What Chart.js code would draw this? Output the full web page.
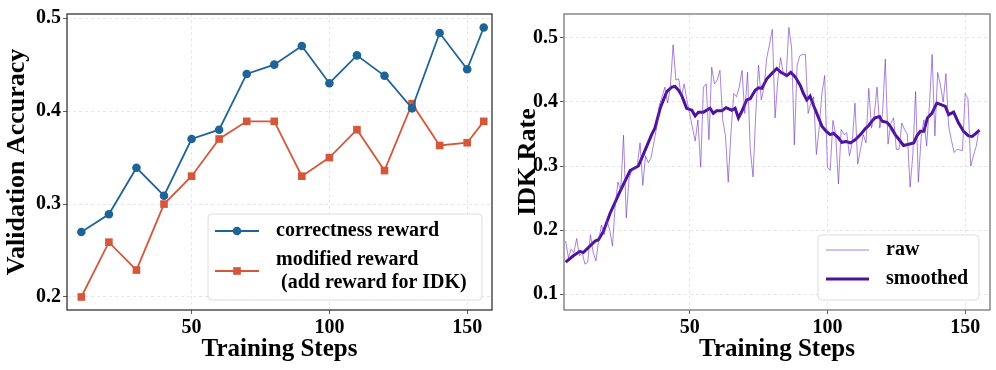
<!DOCTYPE html>
<html>
<head>
<meta charset="utf-8">
<script src="https://cdn.jsdelivr.net/npm/chart.js@4"></script>
<style>
  body { margin: 0; background: #fff; }
  .wrap { position: absolute; top: 0; width: 498px; height: 370px; }
</style>
</head>
<body>
<div class="wrap" style="left:0"><canvas id="accChart" width="498" height="370"></canvas></div>
<div class="wrap" style="left:498px"><canvas id="idkChart" width="498" height="370"></canvas></div>
<script>
// left panel: validation accuracy
const accSteps = [10, 20, 30, 40, 50, 60, 70, 80, 90, 100, 110, 120, 130, 140, 150, 156];
const correctnessAcc = [0.270, 0.289, 0.339, 0.309, 0.370, 0.380, 0.440, 0.450, 0.470, 0.430, 0.460, 0.438, 0.403, 0.484, 0.445, 0.490];
const modifiedAcc = [0.200, 0.259, 0.229, 0.300, 0.330, 0.370, 0.389, 0.389, 0.330, 0.350, 0.380, 0.336, 0.408, 0.363, 0.366, 0.389];
const accYTicks = [0.2, 0.3, 0.4, 0.5];

// right panel: IDK rate
const rawSteps = [
  5, 6, 7, 8, 9, 10, 11, 12, 13, 14, 15, 16, 17, 18, 19, 20, 21, 22, 23, 24, 25, 26, 27, 28, 29, 30,
  31, 32, 33, 34, 35, 36, 37, 38, 39, 40, 41, 42, 43, 44, 45, 46, 47, 48, 49, 50, 51, 52, 53, 54, 55,
  56, 57, 58, 59, 60, 61, 62, 63, 64, 65, 66, 67, 68, 69, 70, 71, 72, 73, 74, 75, 76, 77, 78, 79, 80,
  81, 82, 83, 84, 85, 86, 87, 88, 89, 90, 91, 92, 93, 94, 95, 96, 97, 98, 99, 100, 101, 102, 103, 104, 105,
  106, 107, 108, 109, 110, 111, 112, 113, 114, 115, 116, 117, 118, 119, 120, 121, 122, 123, 124, 125, 126, 127, 128, 129, 130,
  131, 132, 133, 134, 135, 136, 137, 138, 139, 140, 141, 142, 143, 144, 145, 146, 147, 148, 149, 150, 151, 152, 153, 154, 155
];
const rawIdk = [
  0.183, 0.157, 0.170, 0.165, 0.187, 0.160, 0.165, 0.147, 0.150, 0.193, 0.165, 0.152, 0.185, 0.208, 0.193, 0.215, 0.200, 0.175, 0.240, 0.275, 0.262, 0.348, 0.219, 0.280, 0.293, 0.296,
  0.300, 0.336, 0.270, 0.316, 0.305, 0.313, 0.336, 0.360, 0.395, 0.408, 0.423, 0.398, 0.423, 0.489, 0.434, 0.436, 0.408, 0.428, 0.403, 0.382, 0.360, 0.339, 0.372, 0.298, 0.423,
  0.428, 0.341, 0.454, 0.428, 0.434, 0.449, 0.372, 0.347, 0.275, 0.352, 0.413, 0.408, 0.423, 0.449, 0.382, 0.446, 0.326, 0.283, 0.382, 0.457, 0.403, 0.423, 0.469, 0.490, 0.513,
  0.375, 0.434, 0.469, 0.444, 0.438, 0.516, 0.485, 0.333, 0.457, 0.472, 0.474, 0.474, 0.382, 0.398, 0.408, 0.318, 0.359, 0.413, 0.441, 0.298, 0.293, 0.371, 0.349, 0.272, 0.357,
  0.349, 0.352, 0.316, 0.336, 0.398, 0.303, 0.326, 0.349, 0.336, 0.421, 0.359, 0.380, 0.423, 0.359, 0.382, 0.467, 0.334, 0.367, 0.375, 0.326, 0.326, 0.367, 0.357, 0.349, 0.267,
  0.318, 0.416, 0.275, 0.344, 0.372, 0.331, 0.393, 0.474, 0.347, 0.446, 0.426, 0.400, 0.444, 0.362, 0.340, 0.321, 0.326, 0.325, 0.324, 0.413, 0.405, 0.300, 0.316, 0.331, 0.357
];
const smoothSteps = [5, 7.8, 10.2, 11.4, 13.8, 15.7, 16.9, 18.7, 21.1, 24.7, 28.4, 31.4, 33.2, 36.2, 37.4, 39.3, 41.7, 43.5, 44.7, 46, 47.1, 48.9,
  50.8, 52, 53.2, 55, 57.4, 58.6, 59.8, 61.7, 63.2, 65.3, 66.5, 67.7, 68.9, 70.7, 72, 73.8, 75, 76.2, 78, 79.8, 81.6, 83.1, 85.3, 86.7, 88.3,
  90.1, 91.3, 92.5, 93.7, 94.9, 96.8, 98, 99.6, 101, 102.2, 104, 105.2, 106.8, 108.3, 110.1, 112, 113.7, 115, 116.1, 117.3, 118.9, 119.8,
  121.6, 122.8, 124.6, 126.4, 127.6, 129.5, 131.3, 132.5, 133.7, 135, 136.3, 137.9, 139.7, 141, 142.8, 144, 145.8, 147.6, 149.4, 151.2, 152.5, 153.7, 155.2];
const smoothIdk = [0.150, 0.160, 0.167, 0.165, 0.175, 0.183, 0.185, 0.198, 0.226, 0.260, 0.293, 0.300, 0.318, 0.349, 0.359, 0.390, 0.416, 0.423, 0.424, 0.418, 0.410, 0.390,
  0.387, 0.378, 0.384, 0.384, 0.390, 0.382, 0.386, 0.386, 0.391, 0.387, 0.390, 0.375, 0.385, 0.403, 0.405, 0.418, 0.422, 0.421, 0.436, 0.444, 0.452, 0.446, 0.441, 0.446, 0.439,
  0.426, 0.413, 0.403, 0.409, 0.395, 0.375, 0.362, 0.354, 0.349, 0.351, 0.344, 0.337, 0.338, 0.336, 0.341, 0.349, 0.358, 0.363, 0.370, 0.375, 0.377, 0.370,
  0.368, 0.362, 0.349, 0.339, 0.332, 0.334, 0.336, 0.347, 0.354, 0.354, 0.375, 0.382, 0.398, 0.396, 0.393, 0.380, 0.384, 0.367, 0.354, 0.347, 0.346, 0.350, 0.356];
const idkYTicks = [0.1, 0.2, 0.3, 0.4, 0.5];
const stepTicks = [50, 100, 150];

const serif = "'Liberation Serif', 'DejaVu Serif', serif";

// draws the full axes box like matplotlib
const frameBox = {
    id: 'frameBox',
    afterDraw(chart, args, opts) {
        const a = chart.chartArea;
        const ctx = chart.ctx;
        ctx.save();
        ctx.strokeStyle = opts.color;
        ctx.lineWidth = 1.3;
        ctx.strokeRect(a.left, a.top, a.right - a.left, a.bottom - a.top);
        ctx.restore();
    }
};

// legend in a rounded box, lower right corner
const boxLegend = {
    id: 'boxLegend',
    afterDraw(chart, args, opts) {
        const ctx = chart.ctx;
        const a = chart.chartArea;
        const x0 = a.right - opts.right - opts.width;
        const y0 = a.bottom - opts.bottom - opts.height;
        ctx.save();
        ctx.beginPath();
        ctx.roundRect(x0, y0, opts.width, opts.height, 4);
        ctx.fillStyle = 'rgba(255,255,255,0.85)';
        ctx.fill();
        ctx.strokeStyle = '#dcdcdc';
        ctx.lineWidth = 1;
        ctx.stroke();
        ctx.font = 'bold 20px ' + serif;
        ctx.textBaseline = 'middle';
        opts.items.forEach(it => {
            const ds = chart.data.datasets[it.dataset];
            const ly = y0 + it.lineY;
            const lx0 = x0 + opts.lineX0, lx1 = x0 + opts.lineX1;
            ctx.strokeStyle = ds.borderColor;
            ctx.lineWidth = ds.borderWidth;
            ctx.beginPath();
            ctx.moveTo(lx0, ly);
            ctx.lineTo(lx1, ly);
            ctx.stroke();
            const cx = (lx0 + lx1) / 2;
            ctx.fillStyle = ds.backgroundColor;
            if (ds.pointStyle === 'circle' && ds.pointRadius) {
                ctx.beginPath();
                ctx.arc(cx, ly, ds.pointRadius, 0, Math.PI * 2);
                ctx.fill();
            } else if (ds.pointStyle === 'rect' && ds.pointRadius) {
                const s = ds.pointRadius * Math.SQRT1_2;
                ctx.fillRect(cx - s, ly - s, 2 * s, 2 * s);
            }
            ctx.fillStyle = '#000';
            it.text.forEach((t, i) => ctx.fillText(t, x0 + opts.textX, y0 + it.textY[i]));
        });
        ctx.restore();
    }
};

function axisX(title) {
    return {
        type: 'linear',
        afterFit: s => { s.height = 60; },
        afterBuildTicks: s => { s.ticks = stepTicks.map(v => ({ value: v })); },
        grid: { color: '#e0e0e0', lineWidth: 0.8, tickLength: 4, tickColor: '#333', tickBorderDash: [] },
        border: { display: false, dash: [3, 3] },
        ticks: { color: '#000', padding: 2, maxRotation: 0, font: { size: 20, weight: 'bold', family: serif } },
        title: { display: true, text: title, color: '#000', padding: { top: 0, bottom: 8 }, font: { size: 25, weight: 'bold', family: serif, lineHeight: 1 } }
    };
}

function axisY(title, tickVals, width, titlePad) {
    return {
        afterFit: s => { s.width = width; },
        afterBuildTicks: s => { s.ticks = tickVals.map(v => ({ value: v })); },
        grid: { color: '#e0e0e0', lineWidth: 0.8, tickLength: 4, tickColor: '#333', tickBorderDash: [] },
        border: { display: false, dash: [3, 3] },
        ticks: { color: '#000', padding: 2, callback: v => v.toFixed(1), font: { size: 20, weight: 'bold', family: serif } },
        title: { display: true, text: title, color: '#000', padding: { top: titlePad, bottom: 0 }, font: { size: 26, weight: 'bold', family: serif, lineHeight: 1 } }
    };
}

const accX = axisX('Training Steps');
accX.min = 4.8;
accX.max = 159;
const accY = axisY('Validation Accuracy', accYTicks, 67, 4);
accY.min = 0.186;
accY.max = 0.5045;

new Chart(document.getElementById('accChart'), {
    type: 'line',
    data: {
        datasets: [
            {
                label: 'correctness reward',
                data: accSteps.map((s, i) => ({ x: s, y: correctnessAcc[i] })),
                borderColor: '#1f6497',
                backgroundColor: '#1f6497',
                borderWidth: 1.8,
                pointStyle: 'circle',
                pointRadius: 4.3,
                pointBorderWidth: 0,
                tension: 0
            },
            {
                label: 'modified reward (add reward for IDK)',
                data: accSteps.map((s, i) => ({ x: s, y: modifiedAcc[i] })),
                borderColor: '#d5573b',
                backgroundColor: '#d5573b',
                borderWidth: 1.8,
                pointStyle: 'rect',
                pointRadius: 5.4,
                pointBorderWidth: 0,
                tension: 0
            }
        ]
    },
    options: {
        responsive: false,
        animation: false,
        layout: { padding: { top: 9, right: 6, left: 0, bottom: 0 } },
        scales: { x: accX, y: accY },
        plugins: {
            legend: { display: false },
            tooltip: { enabled: false },
            frameBox: { color: '#333' },
            boxLegend: {
                width: 274, height: 86, right: 10, bottom: 10,
                lineX0: 7, lineX1: 51, textX: 68,
                items: [
                    { dataset: 0, lineY: 17, text: ['correctness reward'], textY: [17] },
                    { dataset: 1, lineY: 57, text: ['modified reward', ' (add reward for IDK)'], textY: [46, 69] }
                ]
            }
        }
    },
    plugins: [frameBox, boxLegend]
});

const idkX = axisX('Training Steps');
idkX.min = 4.4;
idkX.max = 159;
const idkY = axisY('IDK Rate', idkYTicks, 66, 17);
idkY.min = 0.0755;
idkY.max = 0.537;

new Chart(document.getElementById('idkChart'), {
    type: 'line',
    data: {
        datasets: [
            {
                label: 'raw',
                data: rawSteps.map((s, i) => ({ x: s, y: rawIdk[i] })),
                borderColor: 'rgba(110, 50, 195, 0.6)',
                backgroundColor: 'rgba(110, 50, 195, 0.6)',
                borderWidth: 1,
                pointRadius: 0,
                tension: 0
            },
            {
                label: 'smoothed',
                data: smoothSteps.map((s, i) => ({ x: s, y: smoothIdk[i] })),
                borderColor: '#4c1299',
                backgroundColor: '#4c1299',
                borderWidth: 3,
                pointRadius: 0,
                tension: 0
            }
        ]
    },
    options: {
        responsive: false,
        animation: false,
        layout: { padding: { top: 9, right: 6, left: 0, bottom: 0 } },
        scales: { x: idkX, y: idkY },
        plugins: {
            legend: { display: false },
            tooltip: { enabled: false },
            frameBox: { color: '#777' },
            boxLegend: {
                width: 161, height: 65, right: 11, bottom: 10,
                lineX0: 8, lineX1: 51, textX: 68,
                items: [
                    { dataset: 0, lineY: 15, text: ['raw'], textY: [15] },
                    { dataset: 1, lineY: 44, text: ['smoothed'], textY: [44] }
                ]
            }
        }
    },
    plugins: [frameBox, boxLegend]
});
</script>
</body>
</html>
